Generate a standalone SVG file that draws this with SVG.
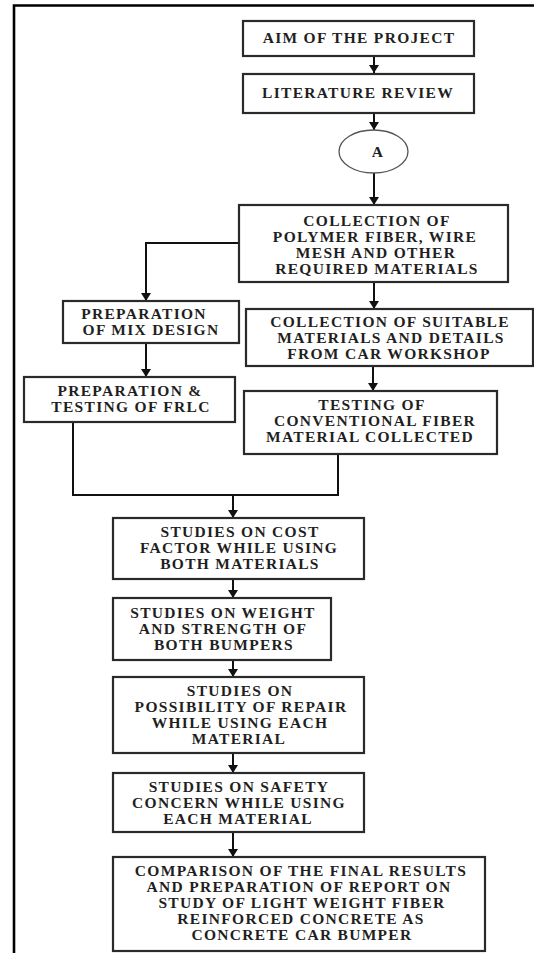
<svg xmlns="http://www.w3.org/2000/svg" width="534" height="953" viewBox="0 0 534 953">
<style>
.box{fill:#fff;stroke:#2a2a2a;stroke-width:2.2}
.conn{fill:none;stroke:#111;stroke-width:2}
.frame{fill:none;stroke:#000;stroke-width:2.6}
text{font-family:"Liberation Serif","Times New Roman",serif;font-size:15.5px;font-weight:bold;letter-spacing:1.3px;fill:#1f1f1f;text-anchor:middle}
</style>
<defs>
<marker id="ah" viewBox="0 0 8 10" refX="8" refY="5" markerWidth="8" markerHeight="10" markerUnits="userSpaceOnUse" orient="auto" preserveAspectRatio="none">
<path d="M0,0 L8,5 L0,10 z" fill="#111"/>
</marker>
</defs>
<rect width="534" height="953" fill="#fff"/>
<g id="frame">
<path class="frame" d="M14,953 V5.5 H534"/>
</g>
<g id="connectors">
<path class="conn" marker-end="url(#ah)" d="M374,56 V73"/>
<path class="conn" marker-end="url(#ah)" d="M374,113 V130"/>
<path class="conn" marker-end="url(#ah)" d="M374,173 V205"/>
<path class="conn" marker-end="url(#ah)" d="M239,243 H146 V301"/>
<path class="conn" marker-end="url(#ah)" d="M374,282 V309"/>
<path class="conn" marker-end="url(#ah)" d="M146,343 V377"/>
<path class="conn" marker-end="url(#ah)" d="M373,366 V391"/>
<path class="conn" d="M73,422 V495 H338 V454"/>
<path class="conn" marker-end="url(#ah)" d="M233,495 V518"/>
<path class="conn" marker-end="url(#ah)" d="M233,579 V598"/>
<path class="conn" marker-end="url(#ah)" d="M233,660 V677"/>
<path class="conn" marker-end="url(#ah)" d="M233,753 V773"/>
<path class="conn" marker-end="url(#ah)" d="M233,832 V857"/>
</g>
<g id="aim">
<rect class="box" x="243" y="21" width="231" height="35"/>
<text x="359" y="43">AIM OF THE PROJECT</text>
</g>
<g id="literature">
<rect class="box" x="243" y="74" width="231" height="39"/>
<text x="358" y="98">LITERATURE REVIEW</text>
</g>
<g id="connectorA">
<ellipse cx="373.5" cy="151.5" rx="34.5" ry="21.5" fill="#fff" stroke="#555" stroke-width="1.3"/>
<text x="378" y="157">A</text>
</g>
<g id="collection">
<rect class="box" x="239" y="205" width="269" height="77"/>
<text x="377" y="226">COLLECTION OF</text>
<text x="375" y="242">POLYMER FIBER, WIRE</text>
<text x="376" y="258">MESH AND OTHER</text>
<text x="377" y="274">REQUIRED MATERIALS</text>
</g>
<g id="mixdesign">
<rect class="box" x="63" y="301" width="176" height="42"/>
<text x="144" y="319">PREPARATION</text>
<text x="151" y="335">OF MIX DESIGN</text>
</g>
<g id="suitable">
<rect class="box" x="246" y="309" width="287" height="57"/>
<text x="390" y="327">COLLECTION OF SUITABLE</text>
<text x="391" y="343">MATERIALS AND DETAILS</text>
<text x="389" y="359">FROM CAR WORKSHOP</text>
</g>
<g id="frlc">
<rect class="box" x="24" y="377" width="211" height="45"/>
<text x="130" y="395.5">PREPARATION &amp;</text>
<text x="131" y="411.5">TESTING OF FRLC</text>
</g>
<g id="conventional">
<rect class="box" x="244" y="391" width="253" height="63"/>
<text x="372" y="410">TESTING OF</text>
<text x="375" y="426">CONVENTIONAL FIBER</text>
<text x="370" y="442">MATERIAL COLLECTED</text>
</g>
<g id="cost">
<rect class="box" x="113" y="518" width="251" height="61"/>
<text x="240" y="537">STUDIES ON COST</text>
<text x="239" y="553">FACTOR WHILE USING</text>
<text x="240" y="569">BOTH MATERIALS</text>
</g>
<g id="weight">
<rect class="box" x="113" y="598" width="218" height="62"/>
<text x="223" y="618">STUDIES ON WEIGHT</text>
<text x="223" y="634">AND STRENGTH OF</text>
<text x="224" y="650">BOTH BUMPERS</text>
</g>
<g id="repair">
<rect class="box" x="113" y="677" width="251" height="76"/>
<text x="240" y="696">STUDIES ON</text>
<text x="241" y="712">POSSIBILITY OF REPAIR</text>
<text x="240" y="728">WHILE USING EACH</text>
<text x="239" y="744">MATERIAL</text>
</g>
<g id="safety">
<rect class="box" x="113" y="773" width="251" height="59"/>
<text x="239" y="792">STUDIES ON SAFETY</text>
<text x="239" y="808">CONCERN WHILE USING</text>
<text x="238" y="824">EACH MATERIAL</text>
</g>
<g id="comparison">
<rect class="box" x="113" y="857" width="372" height="94"/>
<text x="301" y="876">COMPARISON OF THE FINAL RESULTS</text>
<text x="299" y="892">AND PREPARATION OF REPORT ON</text>
<text x="302" y="908">STUDY OF LIGHT WEIGHT FIBER</text>
<text x="301" y="924">REINFORCED CONCRETE AS</text>
<text x="302" y="940">CONCRETE CAR BUMPER</text>
</g>
</svg>
